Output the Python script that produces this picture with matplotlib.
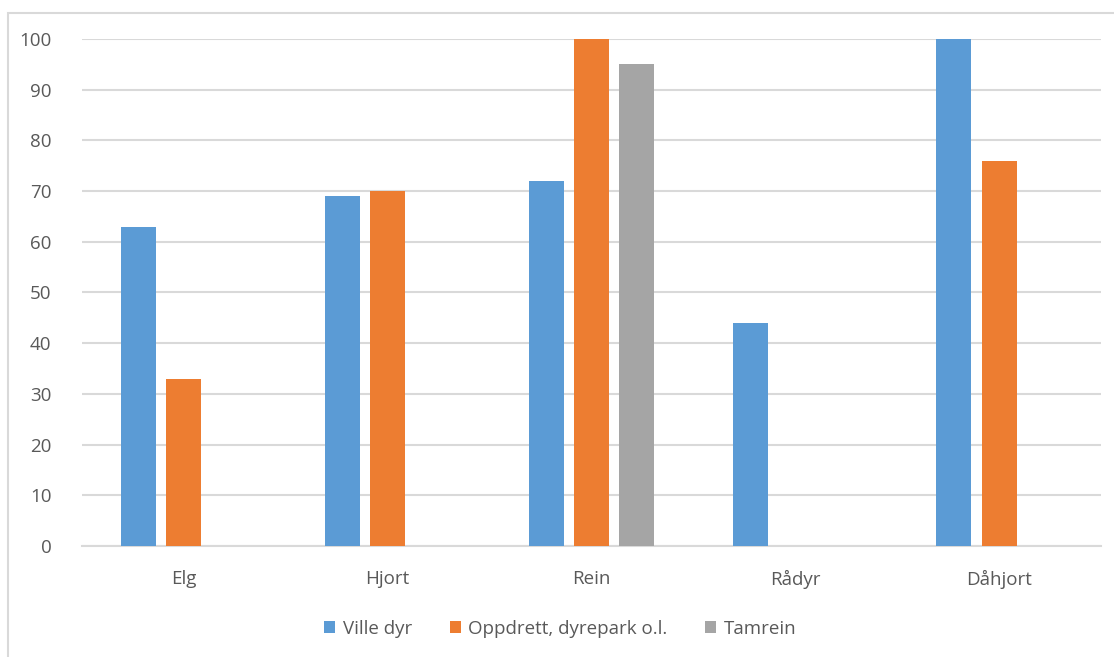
import numpy as np
import matplotlib.pyplot as plt
from matplotlib.patches import Rectangle

categories = ['Elg', 'Hjort', 'Rein', 'Rådyr', 'Dåhjort']
series_names = ['Ville dyr', 'Oppdrett, dyrepark o.l.', 'Tamrein']
ville_dyr = [63, 69, 72, 44, 100]
oppdrett = [33, 70, 100, np.nan, 76]
tamrein = [np.nan, np.nan, 95, np.nan, np.nan]
yticks = list(range(0, 101, 10))

colors = ['#5B9BD5', '#ED7D31', '#A5A5A5']
text_col = '#595959'
grid_col = '#D9D9D9'

plt.rcParams['font.family'] = ['Open Sans', 'DejaVu Sans']

fig = plt.figure(figsize=(11.14, 6.57), dpi=100)
ax = fig.add_axes([0.0736, 0.169, 0.9147, 0.7716])

# outer chart frame (extends past the right and bottom edge)
fig.patches.append(Rectangle((8 / 1114, -0.1), 1.2, 1 - 13 / 657 + 0.1,
                             transform=fig.transFigure, fill=False,
                             edgecolor='#D9D9D9', linewidth=1.5))

x = np.arange(len(categories))
width = 0.172
step = 0.222
for i, (vals, name) in enumerate(zip([ville_dyr, oppdrett, tamrein], series_names)):
    ax.bar(x + (i - 1) * step, vals, width, color=colors[i], label=name, zorder=3)

ax.set_xlim(-0.5, len(categories) - 0.5)
ax.set_ylim(0, 100)
ax.set_yticks(yticks)
ax.set_xticks(x)
ax.set_xticklabels(categories)
ax.grid(axis='y', color=grid_col, linewidth=1.5, zorder=0)
ax.tick_params(axis='both', length=0, labelsize=13.5, colors=text_col)
ax.tick_params(axis='y', pad=22)
ax.tick_params(axis='x', pad=17)
for side in ['top', 'right', 'left']:
    ax.spines[side].set_visible(False)
ax.spines['bottom'].set_color(grid_col)
ax.spines['bottom'].set_linewidth(1.5)

fig.legend(loc='center', bbox_to_anchor=(0.503, 1 - 629 / 657), ncol=3,
           frameon=False, fontsize=13.5, handlelength=0.6, handleheight=0.6,
           handletextpad=0.4, columnspacing=2.0, labelcolor=text_col)

fig.savefig('out.png', dpi=100)
